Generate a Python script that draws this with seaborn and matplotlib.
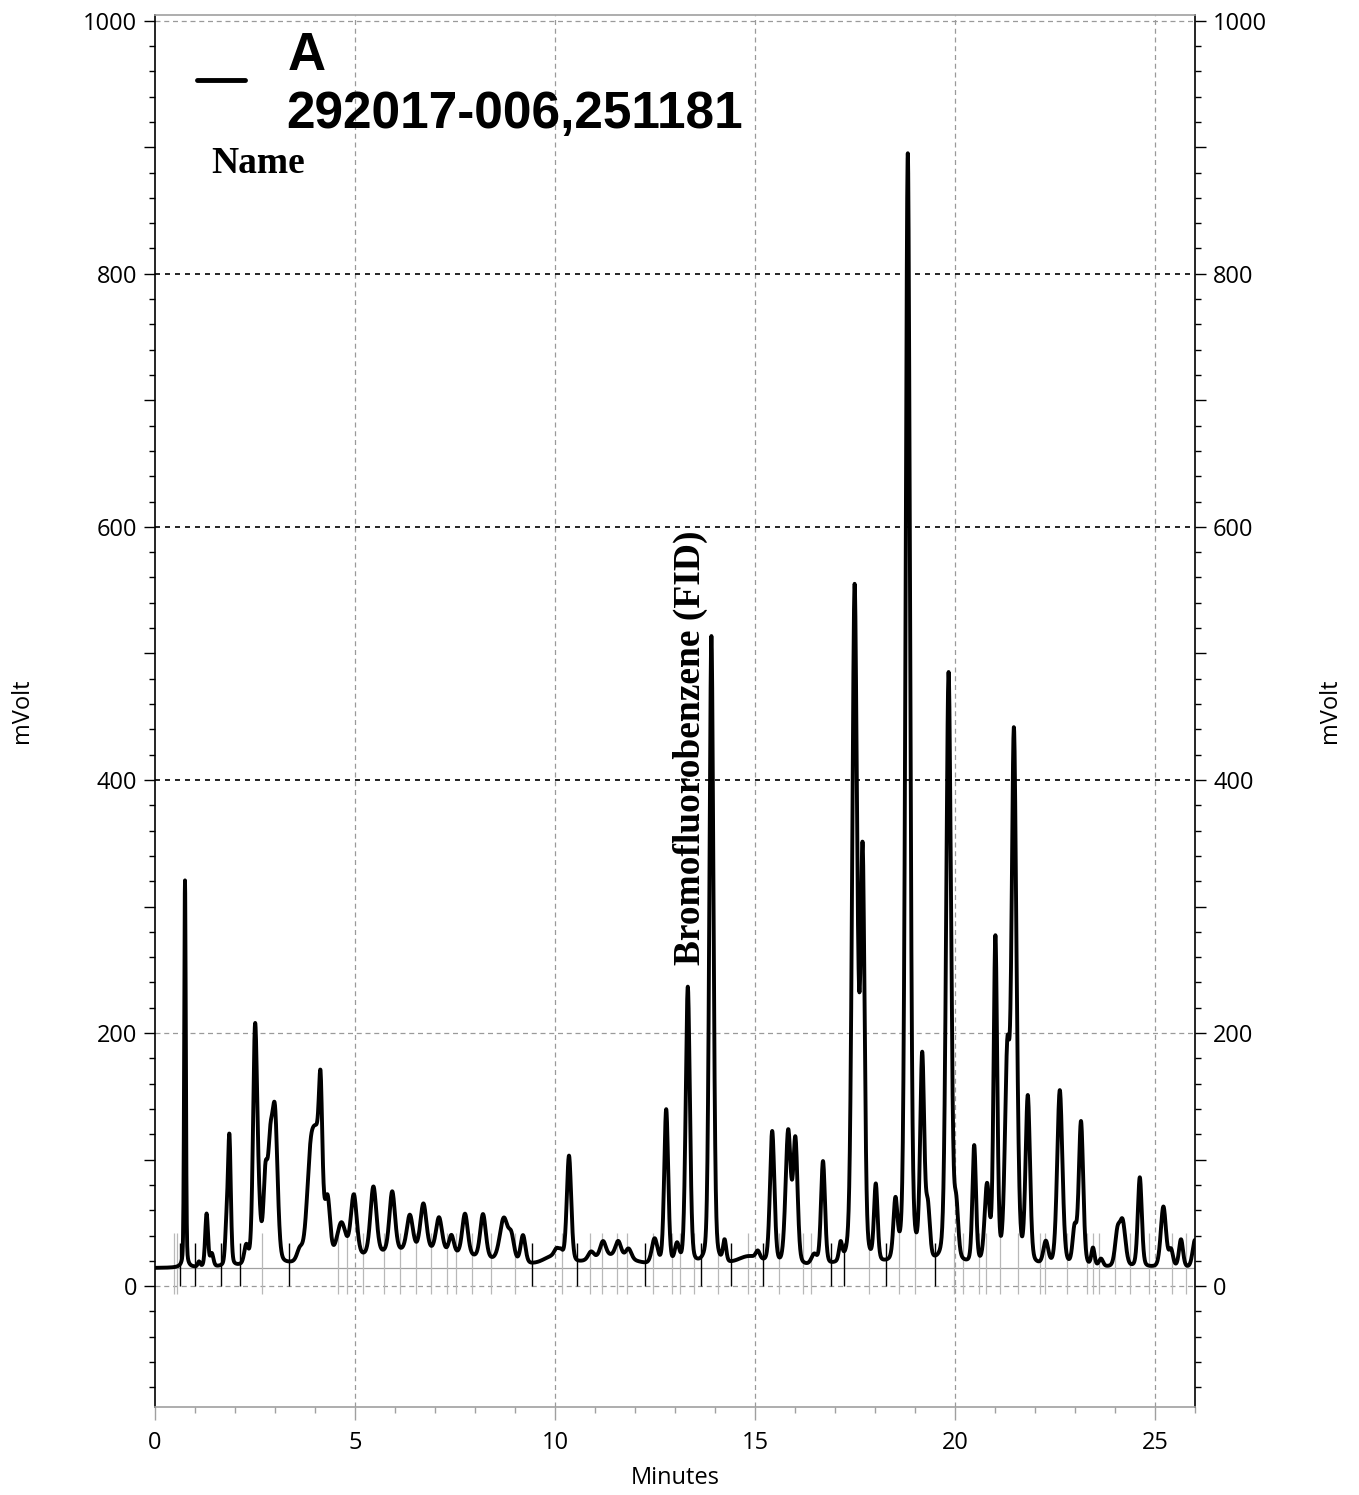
import numpy as np
import pandas as pd
import seaborn as sns
import matplotlib
matplotlib.use("Agg")
import matplotlib.pyplot as plt
from matplotlib.ticker import MultipleLocator, FuncFormatter

# ---------------- data ----------------
baseline_mv = 14.0
tail_mix = 0.25   # share of Lorentzian tail in each peak profile

# peak table: retention time (min), height above baseline (mV), width (min)
peak_times = [0.75, 1.10, 1.29, 1.42, 1.79, 1.86, 2.28, 2.50, 2.58, 2.76, 2.88, 3.00,
              3.62, 3.88, 4.05, 4.14, 4.32, 4.66, 4.97, 5.46, 5.93, 6.37, 6.71, 7.10,
              7.41, 7.75, 8.20, 8.72, 8.91, 9.20, 6.60, 9.95, 10.04, 10.15, 10.35, 11.40,
              10.90, 11.20, 11.58, 11.84, 12.49, 12.78, 13.05, 13.32, 13.91, 14.24, 14.85, 15.07,
              15.43, 15.83, 16.01, 16.48, 16.70, 17.14, 17.49, 17.59, 17.69, 18.02, 18.51, 18.82,
              19.18, 19.32, 19.84, 20.03, 20.48, 20.80, 21.01, 21.31, 21.47, 21.55, 21.82, 22.27,
              22.62, 22.99, 23.15, 23.45, 23.65, 24.06, 24.19, 24.62, 25.21, 25.40, 25.65, 26.00]
peak_heights = [306, 4, 42, 10, 30, 100, 14, 173, 40, 62, 80, 112,
                9, 60, 90, 80, 40, 28, 49, 54, 48, 28, 37, 27,
                14, 33, 35, 34, 18, 22, 13, 7, 6, 5, 84, 9,
                6, 12, 12, 8, 20, 123, 15, 220, 498, 17, 8, 6,
                105, 105, 97, 8, 82, 14, 530, 40, 316, 60, 45, 878,
                160, 40, 468, 40, 93, 60, 256, 160, 397, 60, 131, 18,
                139, 28, 114, 14, 6, 25, 35, 71, 48, 13, 22, 22]
peak_widths = [0.02, 0.03, 0.035, 0.04, 0.035, 0.035, 0.05, 0.05, 0.06, 0.05, 0.06, 0.065,
               0.07, 0.09, 0.12, 0.04, 0.06, 0.11, 0.075, 0.075, 0.07, 0.075, 0.075, 0.075,
               0.06, 0.07, 0.07, 0.10, 0.07, 0.06, 1.4, 0.25, 0.06, 0.05, 0.055, 0.55,
               0.07, 0.07, 0.07, 0.07, 0.07, 0.05, 0.055, 0.052, 0.05, 0.04, 0.3, 0.05,
               0.055, 0.065, 0.055, 0.07, 0.05, 0.04, 0.06, 0.04, 0.05, 0.045, 0.05, 0.055,
               0.05, 0.05, 0.06, 0.05, 0.045, 0.06, 0.045, 0.06, 0.055, 0.05, 0.055, 0.06,
               0.065, 0.05, 0.055, 0.04, 0.05, 0.06, 0.07, 0.05, 0.065, 0.05, 0.05, 0.06]

# integration event marks (min)
black_marks = [0.62, 1.00, 1.65, 2.12, 3.36, 9.43, 10.55, 12.25, 13.64, 14.39, 15.19,
               16.91, 17.23, 18.28, 19.50]
gray_marks = [0.48, 0.55, 2.67, 4.57, 4.79, 5.19, 5.73, 6.12, 6.52, 6.90, 7.29, 7.52, 7.93,
              8.39, 9.01, 10.17, 10.88, 11.17, 11.55, 11.81, 12.46, 12.92, 13.13, 13.47,
              14.08, 14.83, 15.60, 16.20, 16.40, 17.86, 18.60, 18.99, 19.98, 20.21, 20.59,
              20.77, 21.12, 21.58, 22.13, 22.25, 22.79, 23.30, 23.45, 23.60, 24.01, 24.38,
              24.84, 25.42, 25.78]

legend_name = "A"
legend_sample = "292017-006,251181"
name_label = "Name"
peak_label = "Bromofluorobenzene (FID)"
peak_label_time = 13.38
peak_label_mv = 254
x_label = "Minutes"
y_label = "mVolt"

# ---------------- build trace from the peak table ----------------
t = np.linspace(0, 26, 5201)
signal = np.full_like(t, baseline_mv)
for pt, ph, pw in zip(peak_times, peak_heights, peak_widths):
    gamma = pw * np.sqrt(2 * np.log(2))
    gauss = np.exp(-0.5 * ((t - pt) / pw) ** 2)
    lorentz = 1.0 / (1.0 + ((t - pt) / gamma) ** 2)
    signal += ph * ((1 - tail_mix) * gauss + tail_mix * lorentz)
df = pd.DataFrame({"Minutes": t, "mVolt": signal})

# ---------------- figure ----------------
sns.set_theme(style="white")
plt.rcParams["font.family"] = ["Open Sans", "DejaVu Sans"]
plt.rcParams["text.color"] = "black"
plt.rcParams["xtick.color"] = "black"
plt.rcParams["ytick.color"] = "black"

W, H = 1359, 1495
fig = plt.figure(figsize=(W / 100, H / 100), dpi=100)
ax = fig.add_axes([155 / W, (H - 1407) / H, 1040 / W, 1392 / H])

ax.set_xlim(0, 26)
ax.set_ylim(-95.5, 1004.5)

# grid
for gx in [5, 10, 15, 20, 25]:
    ax.axvline(gx, color="#9a9a9a", lw=0.9, ls=(0, (4, 3)), zorder=0)
for gy in [0, 200, 1000]:
    ax.axhline(gy, color="#9a9a9a", lw=0.9, ls=(0, (4, 3)), zorder=0)
for gy in [400, 600, 800]:
    ax.axhline(gy, color="black", lw=1.2, ls=(0, (3, 3)), zorder=0)
ax.axhline(baseline_mv, color="#a0a0a0", lw=0.9, zorder=1)

# integration marks
ax.vlines(gray_marks, -6, 42, color="#b8b8b8", lw=0.9, zorder=1)
ax.vlines(black_marks, 0, 34, color="black", lw=1.0, zorder=1)

sns.lineplot(data=df, x="Minutes", y="mVolt", ax=ax, color="black", lw=2.8,
             zorder=3, legend=False)

# annotation
ax.text(peak_label_time, peak_label_mv, peak_label, rotation=90, ha="center", va="bottom",
        family=["Liberation Serif", "DejaVu Serif"], fontweight="bold", fontsize=27,
        color="black", zorder=4)

# axes styling
ax.set_xlabel("")
ax.set_ylabel("")
for s in ["left", "right"]:
    ax.spines[s].set_color("black")
    ax.spines[s].set_linewidth(1.2)
for s in ["top", "bottom"]:
    ax.spines[s].set_color("#a0a0a0")
    ax.spines[s].set_linewidth(1.2)

ax.xaxis.set_major_locator(MultipleLocator(5))
ax.xaxis.set_minor_locator(MultipleLocator(1))
ax.yaxis.set_major_locator(MultipleLocator(100))
ax.yaxis.set_minor_locator(MultipleLocator(20))
ax.yaxis.set_major_formatter(FuncFormatter(lambda v, p: f"{int(v)}" if int(round(v)) % 200 == 0 else ""))

ax.tick_params(axis="x", which="major", direction="out", length=9, width=1.0, color="#a0a0a0",
               labelcolor="black", labelsize=17, pad=8, bottom=True, top=False)
ax.tick_params(axis="x", which="minor", direction="out", length=4.5, width=1.0, color="#a0a0a0",
               bottom=True, top=False)
ax.tick_params(axis="y", which="major", direction="out", length=8, width=1.0, color="black",
               labelcolor="black", labelsize=17, pad=5, left=True, right=True,
               labelleft=True, labelright=True)
ax.tick_params(axis="y", which="minor", direction="out", length=4, width=1.0, color="black",
               left=True, right=True)

# axis titles
fig.text(22 / W, 1 - 711 / H, y_label, rotation=90, ha="center", va="center", fontsize=17,
         color="black")
fig.text(1330 / W, 1 - 711 / H, y_label, rotation=90, ha="center", va="center", fontsize=17,
         color="black")
fig.text(675 / W, 1 - 1478 / H, x_label, ha="center", va="center", fontsize=17, color="black")

# legend-like header
fig.add_artist(plt.Line2D([197 / W, 245 / W], [1 - 80 / H, 1 - 80 / H], color="black", lw=3.5))
fig.text(288 / W, 1 - 70 / H, legend_name, ha="left", va="baseline", color="black",
         family=["Liberation Sans", "DejaVu Sans"], fontweight="bold", fontsize=38)
fig.text(286 / W, 1 - 128 / H, legend_sample, ha="left", va="baseline", color="black",
         family=["Liberation Sans", "DejaVu Sans"], fontweight="bold", fontsize=37)
fig.text(211 / W, 1 - 173 / H, name_label, ha="left", va="baseline", color="black",
         family=["Liberation Serif", "DejaVu Serif"], fontweight="bold", fontsize=27)

fig.savefig("out.png", dpi=100)
